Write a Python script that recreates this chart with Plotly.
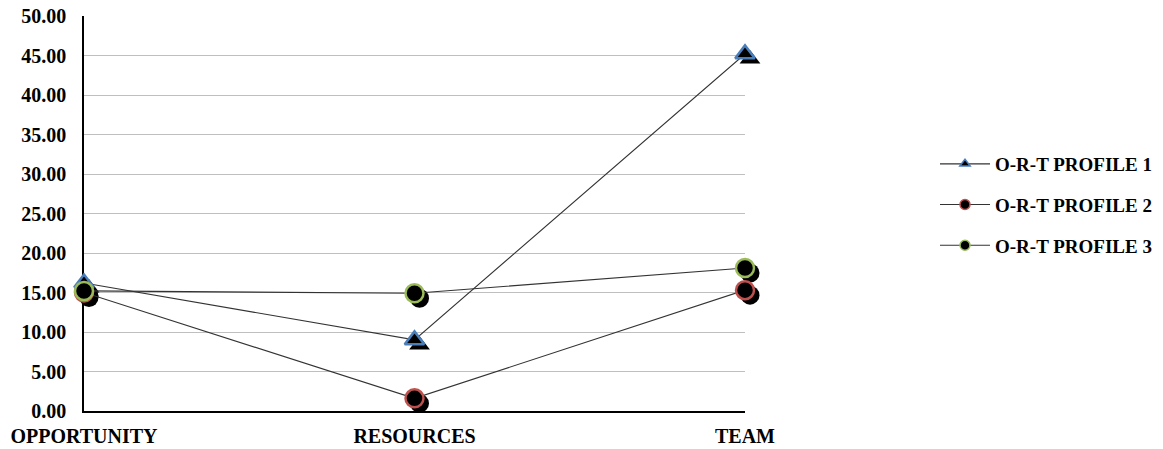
import plotly.graph_objects as go

categories = ["OPPORTUNITY", "RESOURCES", "TEAM"]
series_names = ["O-R-T PROFILE 1", "O-R-T PROFILE 2", "O-R-T PROFILE 3"]
profile1 = [16.2, 9.0, 45.2]
profile2 = [15.0, 1.6, 15.3]
profile3 = [15.2, 14.9, 18.1]
y_ticks = [0, 5, 10, 15, 20, 25, 30, 35, 40, 45, 50]
y_tick_labels = ["%.2f" % v for v in y_ticks]

values = [profile1, profile2, profile3]
symbols = ["triangle-up", "circle", "circle"]
sizes = [17, 18, 18]
outline = ["#4A7EBB", "#C0504D", "#9BBB59"]

FONT = "Liberation Serif, Times New Roman, serif"
xpos = [0, 1, 2]

# pixel geometry of the figure
W_FIG, H_FIG = 1163, 449
ML, MR, MT, MB = 84, 0, 16, 20
PW = W_FIG - ML - MR          # paper width in px
PH = H_FIG - MT - MB          # paper height in px
PLOT_W = 661                  # plot area width
PLOT_BOTTOM_GAP = 18          # px between paper bottom and plot bottom
SH = 5                        # shadow offset in px

main_xdom = [0, PLOT_W / PW]
main_ydom = [PLOT_BOTTOM_GAP / PH, 1]
shadow_xdom = [SH / PW, (PLOT_W + SH) / PW]
shadow_ydom = [(PLOT_BOTTOM_GAP - SH) / PH, 1 - SH / PH]

fig = go.Figure()

# legend entries on the base subplot (grid + axes), small markers like the original legend
leg_sizes = [9, 10, 10]
for i, (name, sym, sz, col) in enumerate(zip(series_names, symbols, leg_sizes, outline)):
    fig.add_trace(go.Scatter(
        x=[None], y=[None], name="<b>%s</b>" % name, mode="lines+markers",
        xaxis="x", yaxis="y", legendgroup="g%d" % i,
        line=dict(color="#333333", width=1.1),
        marker=dict(symbol=sym, size=sz, color="black", line=dict(color=col, width=1.5))))

# shadows (subplot x2y2, drawn above the grid but below the main markers)
for vals, sym, sz in zip(values, symbols, sizes):
    fig.add_trace(go.Scatter(
        x=xpos, y=vals, mode="markers", xaxis="x2", yaxis="y2",
        marker=dict(symbol=sym, size=sz + 1, color="black", line=dict(width=0)),
        showlegend=False, hoverinfo="skip", cliponaxis=False))

# main series (subplot x3y3, on top)
for name, vals, sym, sz, col in zip(series_names, values, symbols, sizes, outline):
    fig.add_trace(go.Scatter(
        x=xpos, y=vals, name=name, mode="lines+markers", xaxis="x3", yaxis="y3",
        line=dict(color="#333333", width=1.1),
        marker=dict(symbol=sym, size=sz, color="black", line=dict(color=col, width=2.5)),
        showlegend=False, cliponaxis=False))

fig.update_layout(
    width=W_FIG, height=H_FIG,
    margin=dict(l=ML, r=MR, t=MT, b=MB, autoexpand=False),
    paper_bgcolor="white", plot_bgcolor="rgba(0,0,0,0)",
    font=dict(family=FONT, size=20, color="#000000"),
    xaxis=dict(domain=main_xdom, anchor="y", range=[0, 2], tickmode="array", tickvals=xpos,
               ticktext=["<b>%s</b>" % c for c in categories],
               showgrid=False, showline=True, linecolor="black", linewidth=1.5,
               ticks="", tickfont=dict(family=FONT, size=20), ticklabelstandoff=6,
               zeroline=False, fixedrange=True),
    yaxis=dict(domain=main_ydom, anchor="x", range=[0, 50], tickmode="array", tickvals=y_ticks,
               ticktext=["<b>%s</b>" % t for t in y_tick_labels],
               showgrid=True, gridcolor="#BFBFBF", gridwidth=1,
               showline=True, linecolor="black", linewidth=1.5,
               ticks="", tickfont=dict(family=FONT, size=20), ticklabelstandoff=12,
               zeroline=False, fixedrange=True),
    xaxis2=dict(domain=shadow_xdom, anchor="y2", range=[0, 2], visible=False, fixedrange=True),
    yaxis2=dict(domain=shadow_ydom, anchor="x2", range=[0, 50], visible=False, fixedrange=True),
    xaxis3=dict(domain=main_xdom, anchor="y3", range=[0, 2], visible=False, fixedrange=True),
    yaxis3=dict(domain=main_ydom, anchor="x3", range=[0, 50], visible=False, fixedrange=True),
    legend=dict(x=(935 - ML) / PW, xanchor="left", y=(H_FIG - MB - 205) / PH, yanchor="middle",
                font=dict(family=FONT, size=19), itemwidth=50, traceorder="grouped",
                tracegroupgap=13, bgcolor="rgba(0,0,0,0)"),
)

fig.write_html("out.html")
